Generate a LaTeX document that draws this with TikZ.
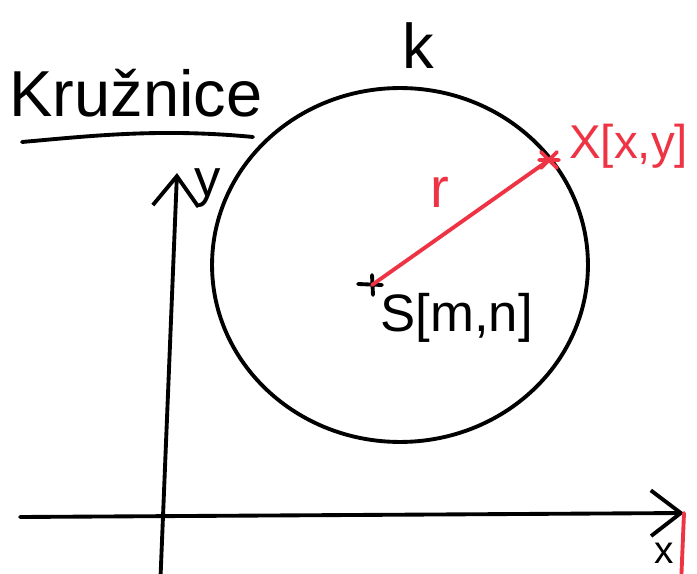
\documentclass[tikz,border=0pt]{standalone}
\usepackage{fontspec}
\setmainfont{Liberation Sans}
\usepackage{xcolor}
\usepackage{tikz}
\usetikzlibrary{positioning,arrows.meta,shapes.geometric}

\definecolor{penred}{RGB}{238,52,68}

\begin{document}
\begin{tikzpicture}[
    x=0.02cm, y=-0.02cm,
    pen/.style={line width=2.2pt, line cap=round, line join=round},
    redpen/.style={pen, draw=penred},
    axis/.style={pen, -{Straight Barb[length=17pt, width=26pt, line width=2.2pt]}},
    hand/.style={inner sep=0pt, font=\fontsize{30}{32}\selectfont}
]
\useasboundingbox (0,0) rectangle (697,574);
\clip (0,0) rectangle (697,574);

% title
\node[hand, font=\fontsize{37}{40}\selectfont] (title) at (136,93) {Kružnice};
\draw[pen] (22,142) .. controls (90,136) and (160,128) .. (253,137);

% axes
\coordinate (yfoot) at (160,590);
\coordinate (ytip) at (177,173);
\coordinate (xfoot) at (20,517);
\coordinate (xtip) at (684,513);
\draw[axis] (yfoot) -- (ytip);
\draw[axis] (xfoot) -- (xtip);
\node[hand] (ylab) at (208,188) {y};
\node[hand, font=\fontsize{22}{24}\selectfont, anchor=south] (xlab) at (664,564) {x};

% circle k
\node[pen, draw, ellipse, inner sep=0pt, minimum width=7.52cm, minimum height=7.08cm] (circ) at (400,265) {};
\node[hand, font=\fontsize{36}{38}\selectfont] (k) at (418,46) {k};

% centre and point on the circle
\coordinate (S) at (372,285);
\coordinate (X) at (549,160);
\draw[pen] (S) +(-14,-1) -- +(10,0) (S) +(0,-10) -- +(1,10);
\draw[redpen] (S) -- (X);
\draw[redpen] (X) +(-8,-8) -- +(8,8) (X) +(-8,8) -- +(8,-8) (X) +(-10,0) -- +(10,0);
\node[hand, text=penred, font=\fontsize{32}{34}\selectfont] (r) at (440,192) {r};
\node[hand, text=penred, anchor=west, font=\fontsize{27}{29}\selectfont] (Xlab) at (569,146) {X[x,y]};
\node[hand, anchor=north west] (Slab) at (380,293) {S[m,n]};

% red stroke at the corner
\coordinate (tail) at (681,585);
\draw[redpen] (xtip) -- (tail);
\end{tikzpicture}
\end{document}
